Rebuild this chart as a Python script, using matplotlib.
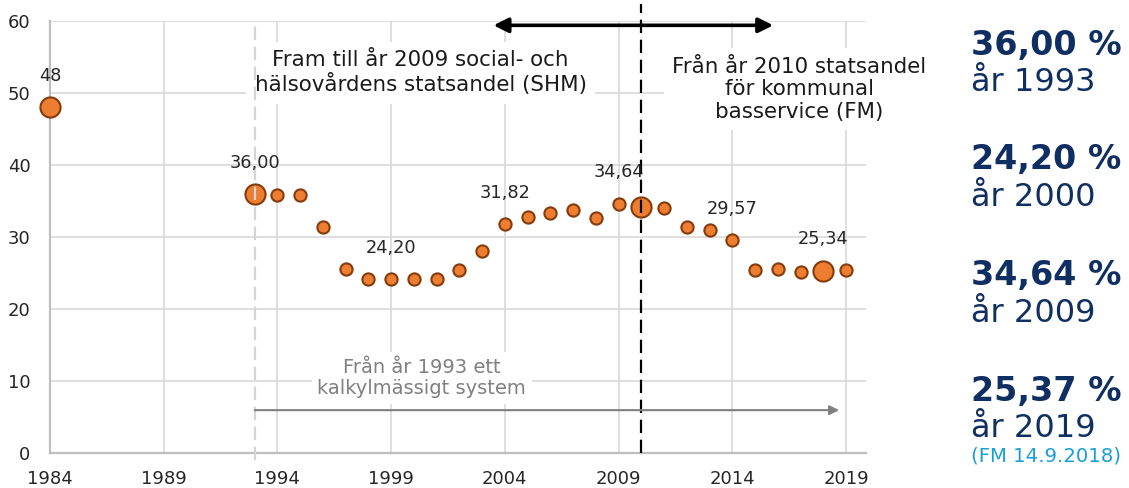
import matplotlib
matplotlib.use("Agg")
import matplotlib.pyplot as plt

# ---- data ----
years = [1984, 1993, 1994, 1995, 1996, 1997, 1998, 1999, 2000, 2001, 2002, 2003,
         2004, 2005, 2006, 2007, 2008, 2009, 2010, 2011, 2012, 2013, 2014, 2015,
         2016, 2017, 2018, 2019]
values = [48.0, 36.0, 35.9, 35.9, 31.4, 25.55, 24.1, 24.2, 24.2, 24.2, 25.4, 28.1,
          31.82, 32.8, 33.4, 33.75, 32.7, 34.64, 34.1, 34.0, 31.4, 31.0, 29.57, 25.4,
          25.6, 25.2, 25.34, 25.4]
big_years = [1984, 1993, 2010, 2018]
label_years = [1984, 1993, 1999, 2004, 2009, 2014, 2018]
label_texts = ["48", "36,00", "24,20", "31,82", "34,64", "29,57", "25,34"]
x_ticks = [1984, 1989, 1994, 1999, 2004, 2009, 2014, 2019]
y_ticks = [0, 10, 20, 30, 40, 50, 60]

side_values = ["36,00 %", "24,20 %", "34,64 %", "25,37 %"]
side_years = ["år 1993", "år 2000", "år 2009", "år 2019"]
side_note = "(FM 14.9.2018)"

text_shm = "Fram till år 2009 social- och\nhälsovårdens statsandel (SHM)"
text_fm = "Från år 2010 statsandel\nför kommunal\nbasservice (FM)"
text_calc = "Från år 1993 ett\nkalkylmässigt system"

# ---- styling ----
ORANGE = "#ED7D31"
EDGE = "#843C0C"
GRID = "#d9d9d9"
NAVY = "#0f2f62"

W, H = 1129, 488
fig = plt.figure(figsize=(W / 100, H / 100), dpi=100)
ax = fig.add_axes([50 / W, 1 - 453 / H, (866 - 50) / W, (453 - 21) / H])
ax.set_xlim(1984, 2019.88)
ax.set_ylim(0, 60)

ax.set_xticks(x_ticks)
ax.set_yticks(y_ticks)
ax.tick_params(length=0, labelsize=13, labelcolor="#262626")
ax.tick_params(axis="x", pad=12)
ax.tick_params(axis="y", pad=14)
ax.grid(True, color=GRID, lw=1.2)
ax.set_axisbelow(True)
for s in ["top", "right"]:
    ax.spines[s].set_visible(False)
for s in ["left", "bottom"]:
    ax.spines[s].set_color("#bfbfbf")
    ax.spines[s].set_linewidth(1.6)

# markers
small_x = [x for x in years if x not in big_years]
small_y = [v for x, v in zip(years, values) if x not in big_years]
big_x = [x for x in years if x in big_years]
big_y = [v for x, v in zip(years, values) if x in big_years]
ax.plot(small_x, small_y, "o", ls="none", ms=8.8, mfc=ORANGE, mec=EDGE, mew=1.5,
        zorder=3, clip_on=False)
ax.plot(big_x, big_y, "o", ls="none", ms=14.5, mfc=ORANGE, mec=EDGE, mew=1.5,
        zorder=3, clip_on=False)

# data labels
vdict = dict(zip(years, values))
for yr, t in zip(label_years, label_texts):
    ax.annotate(t, (yr, vdict[yr]), xytext=(0, 16), textcoords="offset points",
                ha="center", va="bottom", fontsize=12.8, color="#262626", zorder=6)

# vertical dashed lines
ax.plot([1993, 1993], [-1, 60.2], color="#d4d4d4", lw=1.6, dashes=(6, 3),
        zorder=4, clip_on=False)
ax.plot([2010, 2010], [0, 62.3], color="black", lw=1.6, dashes=(6, 3),
        zorder=4, clip_on=False)

# text boxes
box = dict(boxstyle="square,pad=0.4", fc="white", ec="none")
ax.text(2000.3, 52.8, text_shm, ha="center", va="center", fontsize=15.4,
        color="#1a1a1a", linespacing=1.15, bbox=box, zorder=2)
ax.text(2016.95, 50.5, text_fm, ha="center", va="center", fontsize=15.4,
        color="#1a1a1a", linespacing=1.15, bbox=box, zorder=2)
ax.text(2000.35, 10.4, text_calc, ha="center", va="center", fontsize=14,
        color="#808080", linespacing=1.12,
        bbox=dict(boxstyle="square,pad=0.3", fc="white", ec="none"), zorder=2)

# arrows
ax.annotate("", xy=(2015.8, 59.4), xytext=(2003.5, 59.4),
            arrowprops=dict(arrowstyle="<|-|>", color="black", lw=2.6,
                            mutation_scale=22, shrinkA=0, shrinkB=0),
            zorder=5, annotation_clip=False)
ax.annotate("", xy=(2018.7, 5.95), xytext=(1993, 5.95),
            arrowprops=dict(arrowstyle="-|>", color="#808080", lw=1.5,
                            mutation_scale=14, shrinkA=0, shrinkB=0),
            zorder=5, annotation_clip=False)

# side panel
val_base = [55, 169, 285, 401]
yr_base = [91, 206, 322, 437]
for v, yb, vb, tb in zip(side_values, side_years, val_base, yr_base):
    fig.text(971 / W, 1 - vb / H, v, fontsize=24, fontweight="bold", color=NAVY,
             ha="left", va="baseline")
    fig.text(971 / W, 1 - tb / H, yb, fontsize=23, color=NAVY,
             ha="left", va="baseline")
fig.text(971 / W, 1 - 461 / H, side_note, fontsize=14.2, color="#1aa0d6",
         ha="left", va="baseline")

fig.savefig("out.png", dpi=100)
